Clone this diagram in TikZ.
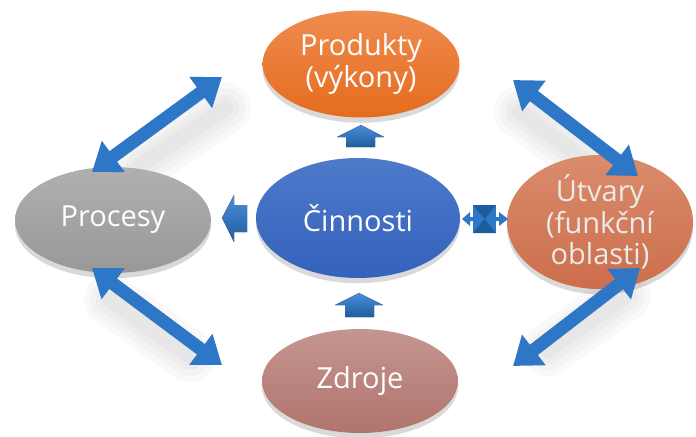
\documentclass[tikz,border=0pt]{standalone}
\usepackage{fontspec}
\setmainfont{Open Sans}
\usetikzlibrary{arrows.meta,shapes.geometric,shadows}

\definecolor{arrowblue}{HTML}{2E76C6}
\definecolor{arrowdark}{HTML}{1F5C9E}
\definecolor{arrowlight}{HTML}{4A8FDA}

\begin{document}
\begin{tikzpicture}[x=0.02cm,y=-0.02cm,
  bubble/.style={ellipse, inner sep=0pt, text=white, align=center,
    font=\fontsize{16.5}{18}\selectfont,
    drop shadow={shadow xshift=0pt, shadow yshift=-3pt, opacity=0.15, fill=black}},
  linkarrow/.style={draw=arrowblue, line width=7.4pt,
    {Triangle[width=21pt,length=15pt]}-{Triangle[width=21pt,length=15pt]}},
  blockarrow/.style={top color=arrowlight, bottom color=arrowdark, draw=none},
  haze/.style={line cap=round, draw=black, opacity=0.025}
]
\useasboundingbox (0,0) rectangle (696,436);

% soft haze beside the diagonal links
\foreach \w in {16,28,40,52} {
  \draw[haze, line width=\w*0.57pt] (140,165) -- (225,108);
  \draw[haze, line width=\w*0.57pt] (520,112) -- (600,172);
  \draw[haze, line width=\w*0.57pt] (110,300) -- (190,356);
  \draw[haze, line width=\w*0.57pt] (548,350) -- (625,296);
}

% the five areas
\node[bubble, top color={rgb,255:red,240;green,140;blue,80},
      bottom color={rgb,255:red,228;green,108;blue,30},
      minimum width=3.94cm, minimum height=2.14cm] (prod) at (361,64) {Produkty\\(výkony)};
\node[bubble, top color={rgb,255:red,78;green,122;blue,202},
      bottom color={rgb,255:red,52;green,98;blue,188},
      minimum width=4.08cm, minimum height=2.4cm] (cinn) at (358,218) {Činnosti};
\node[bubble, top color={rgb,255:red,218;green,140;blue,108},
      bottom color={rgb,255:red,204;green,110;blue,76},
      minimum width=3.72cm, minimum height=2.08cm, text=white!92!black] (utv) at (600,222) {Útvary\\(funkční\\oblasti)};
\node[bubble, top color={rgb,255:red,176;green,176;blue,176},
      bottom color={rgb,255:red,152;green,152;blue,152},
      minimum width=3.92cm, minimum height=2.12cm] (proc) at (113,220) {Procesy};
\node[bubble, top color={rgb,255:red,196;green,150;blue,143},
      bottom color={rgb,255:red,176;green,116;blue,110},
      minimum width=3.92cm, minimum height=2.08cm] (zdr) at (360,381) {Zdroje};

% ends of the diagonal links
\coordinate (procTop) at (92,172);
\coordinate (prodLeft) at (222,77);
\coordinate (prodRight) at (513,80);
\coordinate (utvTop) at (638,176);
\coordinate (procBot) at (92,268);
\coordinate (zdrLeft) at (222,365);
\coordinate (zdrRight) at (513,366);
\coordinate (utvBot) at (640,268);

\draw[linkarrow] (procTop) -- (prodLeft);
\draw[linkarrow] (prodRight) -- (utvTop);
\draw[linkarrow] (procBot) -- (zdrLeft);
\draw[linkarrow] (zdrRight) -- (utvBot);

% block arrows around the centre
% up: Činnosti -> Produkty
\fill[blockarrow] (337,137) -- (361,125) -- (384,137) -- (375,137) -- (375,147)
  -- (346,147) -- (346,137) -- cycle;
% up: Zdroje -> Činnosti
\fill[blockarrow] (335,305) -- (359,293) -- (383,305) -- (374,305) -- (374,317)
  -- (345,317) -- (345,305) -- cycle;
% left: Činnosti -> Procesy
\fill[blockarrow] (222,218) -- (234,195) -- (234,205) -- (247,205) -- (247,232)
  -- (234,232) -- (234,242) -- cycle;
% both ways: Činnosti <-> Útvary
\fill[arrowblue] (462,219) -- (470,212) -- (470,217) -- (499,217) -- (499,212)
  -- (508,219) -- (499,226) -- (499,221) -- (470,221) -- (470,226) -- cycle;
\fill[arrowblue] (473,205) rectangle (496,233);
\fill[arrowdark] (473,205) -- (484.5,219) -- (496,205) -- cycle;
\fill[arrowdark] (473,233) -- (484.5,219) -- (496,233) -- cycle;
\end{tikzpicture}
\end{document}
